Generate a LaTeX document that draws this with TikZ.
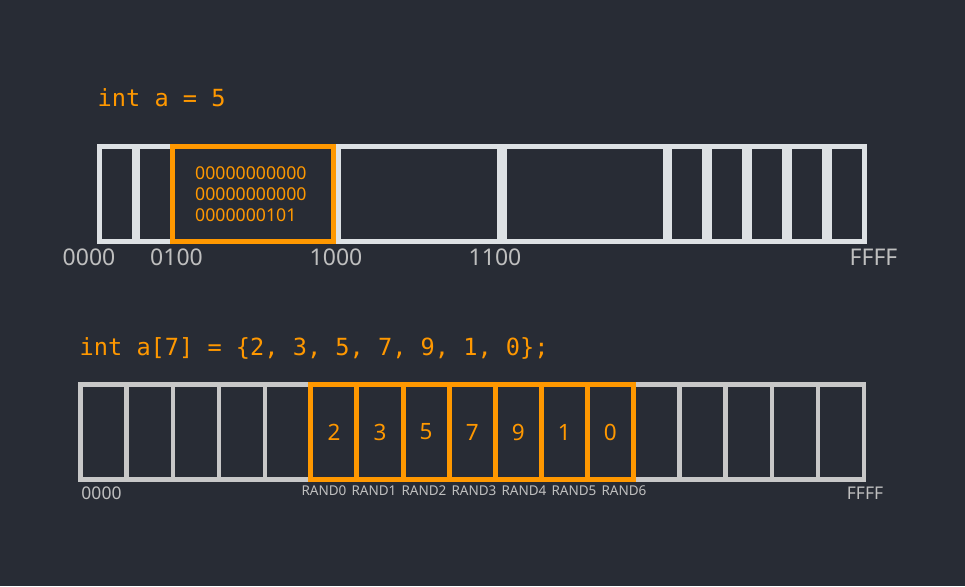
\documentclass[tikz,border=0pt]{standalone}
\usepackage{fontspec}
\setmainfont{Noto Sans}
\setmonofont{DejaVu Sans Mono}
\definecolor{bg}{HTML}{282C35}
\definecolor{topline}{HTML}{DDE1E4}
\definecolor{botline}{HTML}{C8C8C8}
\definecolor{hl}{HTML}{FF9800}
\definecolor{lbl}{HTML}{BFBFBF}
\tikzset{
  topcell/.style={draw=topline, line width=5pt, inner sep=0pt, minimum height=94.7pt},
  hlbox/.style={draw=hl, line width=5pt, inner sep=0pt, minimum height=94.7pt},
  botcell/.style={draw=botline, line width=4.3pt, inner sep=0pt, minimum width=46.08pt, minimum height=95pt},
  hlcell/.style={draw=hl, line width=5pt, inner sep=0pt, minimum width=46.08pt, minimum height=95pt,
    text=hl, font=\fontsize{22.5}{26}\selectfont},
  code/.style={text=hl, anchor=base west, inner sep=0pt, font=\ttfamily\fontsize{23.6}{28}\selectfont},
  addr/.style={text=lbl, anchor=base, inner sep=0pt, font=\fontsize{23}{27}\selectfont},
  addrs/.style={text=lbl, anchor=base, inner sep=0pt, font=\fontsize{17.5}{21}\selectfont},
  randlbl/.style={text=lbl, anchor=base, inner sep=0pt, font=\fontsize{13.5}{16}\selectfont},
  bits/.style={text=hl, anchor=base west, inner sep=0pt, font=\fontsize{17.7}{21}\selectfont},
}
\begin{document}
\begin{tikzpicture}[x=1pt,y=-1pt]
\useasboundingbox[fill=bg] (0,0) rectangle (965,586);

% ---------- top example ----------
\node[code] (t1) at (97.5,106.5) {int a = 5};

\node[topcell, minimum width=35pt]   (ca) at (117,193.85) {};
\node[topcell, minimum width=35pt]   (cb) at (155,193.85) {};
\node[topcell, minimum width=161pt]  (cc) at (419,193.85) {};
\node[topcell, minimum width=161pt]  (cd) at (585,193.85) {};
\node[topcell, minimum width=35pt]   (ce) at (687,193.85) {};
\node[topcell, minimum width=35pt]   (cf) at (727,193.85) {};
\node[topcell, minimum width=35pt]   (cg) at (767,193.85) {};
\node[topcell, minimum width=35pt]   (ch) at (807,193.85) {};
\node[topcell, minimum width=34.7pt] (ci) at (846.85,193.85) {};
\node[hlbox, minimum width=161pt]    (co) at (253,193.85) {};

\node[bits] (b1) at (195,179) {00000000000};
\node[bits] (b2) at (195,200) {00000000000};
\node[bits] (b3) at (195,221) {0000000101};

\node[addr] (a0) at (89,265.5) {0000};
\node[addr] (a1) at (176.5,265.5) {0100};
\node[addr] (a2) at (336,265.5) {1000};
\node[addr] (a3) at (495,265.5) {1100};
\node[addr] (a4) at (873.5,265.5) {FFFF};

% ---------- array example ----------
\node[code] (t2) at (79.5,355.5) {int a[7] = \{2, 3, 5, 7, 9, 1, 0\};};

\foreach \k in {0,1,2,3,4,12,13,14,15,16}
  \node[botcell] (g\k) at ({80.5+46.08*(\k+0.5)},432) {};
\foreach \k/\v in {5/2,6/3,7/5,8/7,9/9,10/1,11/0}
  \node[hlcell] (g\k) at ({80.5+46.08*(\k+0.5)},432) {\v};

\foreach \i in {0,...,6}
  \node[randlbl] (r\i) at ({324+50*\i},495) {RAND\i};

\node[addrs] (z0) at (101.5,499) {0000};
\node[addrs] (z1) at (865,499) {FFFF};
\end{tikzpicture}
\end{document}
